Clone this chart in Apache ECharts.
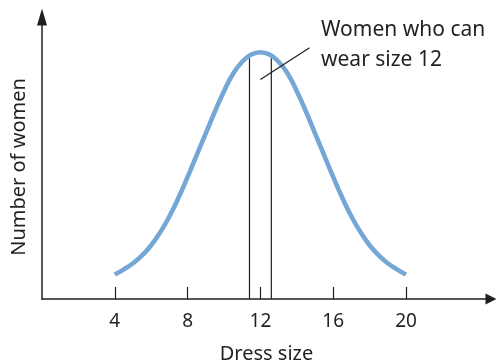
<!DOCTYPE html>
<html>
<head>
<meta charset="utf-8">
<script src="https://cdn.jsdelivr.net/npm/echarts@6/dist/echarts.min.js"></script>
<style>html,body{margin:0;padding:0;background:#fff}#c{width:496px;height:363px}</style>
</head>
<body>
<div id="c"></div>
<script>
// Dress sizes along the curve
var sizes = [4,4.5,5,5.5,6,6.5,7,7.5,8,8.5,9,9.5,10,10.5,11,11.5,12,12.5,13,13.5,14,14.5,15,15.5,16,16.5,17,17.5,18,18.5,19,19.5,20];
// Relative number of women
var women = [8.4,10.2,12.3,15.0,18.5,23.0,28.4,34.8,42.0,49.5,57.0,64.5,71.5,77.5,81.6,84.1,84.9,84.1,81.6,77.5,71.5,64.5,57.0,49.5,42.0,34.8,28.4,23.0,18.5,15.0,12.3,10.2,8.4];
// Size-12 band boundaries
var bandX = [11.4, 12.6];
var bandTop = [82.8, 82.8];
// Leader line of annotation
var leaderX = [12.0, 14.7];
var leaderY = [75.5, 86.4];
var tickValues = [4, 8, 12, 16, 20];
var xTitle = 'Dress size';
var yTitle = 'Number of women';
var note = ['Women who can', 'wear size 12'];

var FONT = '"Noto Sans", sans-serif';
var INK = '#231f20';
var chart = echarts.init(document.getElementById('c'), null, {renderer: 'canvas'});

var series = [{
  type: 'line', smooth: true, showSymbol: false, symbol: 'none',
  data: sizes.map(function (s, i) { return [s, women[i]]; }),
  lineStyle: {color: '#75a7d6', width: 4.6}, z: 3
}];
bandX.forEach(function (x, i) {
  series.push({type: 'line', symbol: 'none', data: [[x, 0], [x, bandTop[i]]],
    lineStyle: {color: INK, width: 1.2}, z: 2});
});
series.push({type: 'line', symbol: 'none', data: leaderX.map(function (x, i) { return [x, leaderY[i]]; }),
  lineStyle: {color: INK, width: 1.2}, z: 4});

chart.setOption({
  animation: false,
  grid: {left: 42, right: 5, top: 17, bottom: 64, containLabel: false, outerBoundsMode: 'none'},
  xAxis: {
    type: 'value', min: 0, max: 24.67,
    axisLine: {show: true, lineStyle: {color: INK, width: 1.5}, symbol: ['none', 'triangle'], symbolSize: [11, 11]},
    axisTick: {show: true, inside: true, length: 12, customValues: tickValues, lineStyle: {color: INK, width: 1.2}},
    axisLabel: {customValues: tickValues, fontSize: 19, color: INK, fontFamily: FONT, margin: 13},
    splitLine: {show: false},
    name: xTitle, nameLocation: 'middle', nameGap: 45,
    nameTextStyle: {fontSize: 20, color: INK, fontFamily: FONT}
  },
  yAxis: {
    type: 'value', min: 0, max: 97,
    axisLine: {show: true, lineStyle: {color: INK, width: 1.5}, symbol: ['none', 'triangle'], symbolSize: [10, 17]},
    axisTick: {show: false}, axisLabel: {show: false}, splitLine: {show: false}
  },
  graphic: [
    {type: 'text', x: 19, y: 167, rotation: Math.PI / 2,
      style: {text: yTitle, fontSize: 20, fontFamily: FONT, fill: INK, textAlign: 'center', textVerticalAlign: 'middle'}},
    {type: 'text', x: 321, y: 30,
      style: {text: note[0], fontSize: 21, fontFamily: FONT, fill: INK, textAlign: 'left', textVerticalAlign: 'middle'}},
    {type: 'text', x: 321, y: 60,
      style: {text: note[1], fontSize: 21, fontFamily: FONT, fill: INK, textAlign: 'left', textVerticalAlign: 'middle'}}
  ],
  series: series
});
</script>
</body>
</html>
